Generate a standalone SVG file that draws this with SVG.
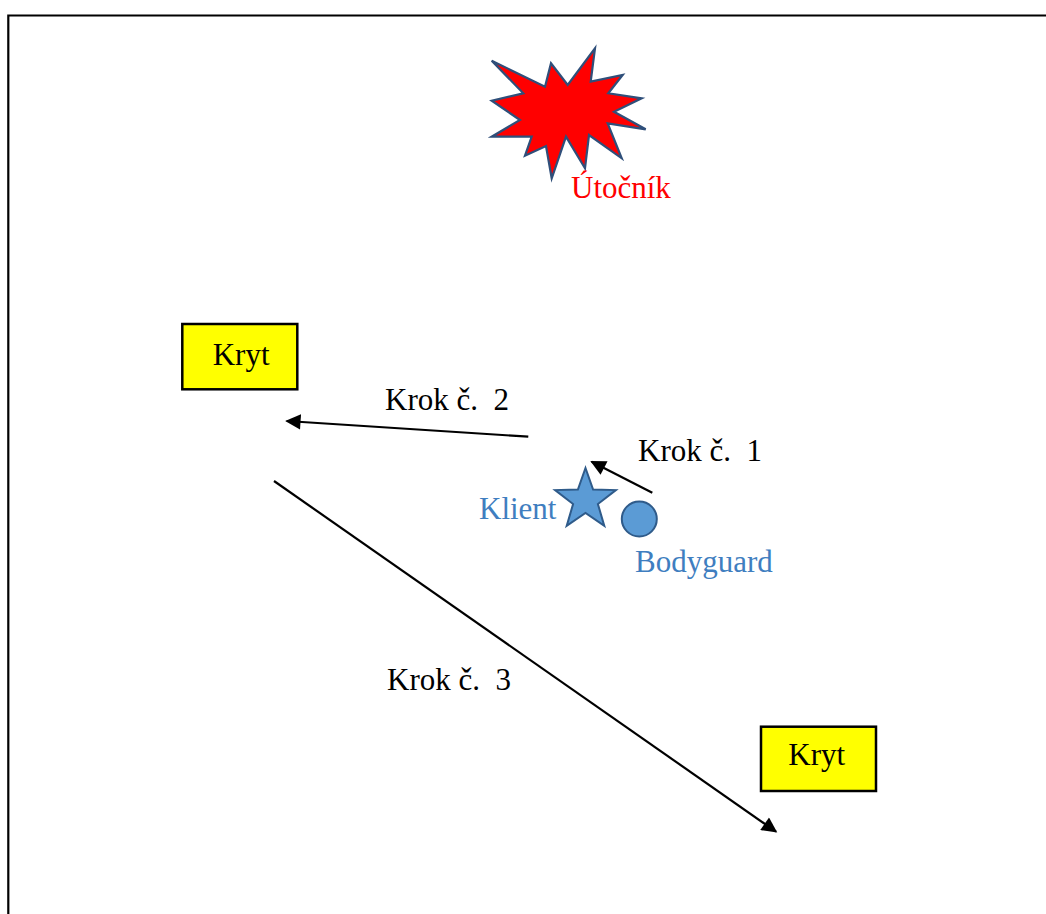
<svg xmlns="http://www.w3.org/2000/svg" width="1046" height="914" viewBox="0 0 1046 914">
<defs>
<style>
.t{font-family:"Liberation Serif","Times New Roman",serif;font-size:31px;fill:#000}
.blue{fill:#3F7EC0}
.box{fill:#FFFF00;stroke:#000;stroke-width:2.5}
.conn{stroke:#000;stroke-width:2.2;fill:none;marker-end:url(#ah)}
</style>
<marker id="ah" viewBox="0 0 10 10" refX="9" refY="5" markerWidth="8.5" markerHeight="7" markerUnits="strokeWidth" orient="auto">
<path d="M0,0 L10,5 L0,10 z" fill="#000"/>
</marker>
</defs>
<rect width="1046" height="914" fill="#fff"/>
<path d="M8.3,914 V15.5 H1046" fill="none" stroke="#000" stroke-width="2.2"/>
<g id="attacker">
<polygon points="491.7,60.7 545,86.7 551,63.3 567.7,85 595,48.3 590.7,81.7 622.7,75 608.3,93.3 641.7,98.3 614,111.7 645.7,129.3 607.7,123.3 621.7,158.3 589,135 585,168.3 566,136.7 551.7,178.3 546,146 525,155.7 531.7,136.7 491.7,136.7 520,120 491.7,100.7 523.3,93.3" fill="#FF0000" stroke="#2F4F7A" stroke-width="2.2" stroke-linejoin="miter"/>
<text class="t" x="571" y="198" style="fill:#FF0000">Útočník</text>
</g>
<g id="cover1">
<rect class="box" x="182.3" y="324" width="115" height="65.3"/>
<text class="t" x="212.7" y="365">Kryt</text>
</g>
<g id="cover2">
<rect class="box" x="761" y="726.7" width="115" height="64.3"/>
<text class="t" x="788.3" y="765">Kryt</text>
</g>
<g id="client">
<polygon points="585.5,468 593.1,489.5 615.9,490.1 597.9,504 604.3,525.9 585.5,513 566.7,525.9 573.1,504 555.1,490.1 577.9,489.5" fill="#5B9BD5" stroke="#2F5B8A" stroke-width="2"/>
<text class="t blue" x="479" y="519.3">Klient</text>
</g>
<g id="bodyguard">
<circle cx="639.3" cy="519" r="17.5" fill="#5B9BD5" stroke="#2F5B8A" stroke-width="2"/>
<text class="t blue" x="635" y="571.7">Bodyguard</text>
</g>
<g id="connectors">
<line class="conn" x1="652.3" y1="492.7" x2="591.7" y2="461.7"/>
<line class="conn" x1="528.3" y1="436.7" x2="286.7" y2="421"/>
<line class="conn" x1="274" y1="481" x2="776" y2="831.7"/>
</g>
<g id="labels">
<text class="t" x="638" y="460.7" xml:space="preserve">Krok č.  1</text>
<text class="t" x="385" y="410" xml:space="preserve">Krok č.  2</text>
<text class="t" x="387" y="690" xml:space="preserve">Krok č.  3</text>
</g>
</svg>
